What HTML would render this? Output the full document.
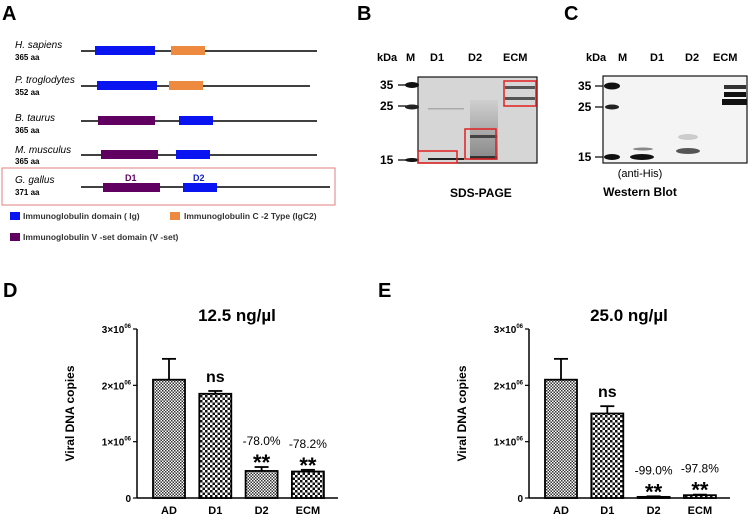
<!DOCTYPE html>
<html><head><meta charset="utf-8"><style>
body{margin:0;background:#fff;font-family:"Liberation Sans",sans-serif}
svg{display:block}
text{font-family:"Liberation Sans",sans-serif}
</style></head><body>
<svg width="750" height="518" viewBox="0 0 750 518">
<defs>
<pattern id="pAD" width="3" height="3" patternUnits="userSpaceOnUse"><rect width="3" height="3" fill="#fff"/><rect width="1.5" height="1.5" fill="#333"/><rect x="1.5" y="1.5" width="1.5" height="1.5" fill="#333"/></pattern>
<pattern id="pD1" width="5" height="5" patternUnits="userSpaceOnUse"><rect width="5" height="5" fill="#fff"/><rect width="2.5" height="2.5" fill="#111"/><rect x="2.5" y="2.5" width="2.5" height="2.5" fill="#111"/></pattern>
<linearGradient id="gD2" x1="0" y1="0" x2="0" y2="1"><stop offset="0" stop-color="#ccc"/><stop offset="0.5" stop-color="#999"/><stop offset="1" stop-color="#666"/></linearGradient>
</defs>

<!-- Panel A -->
<g>
<text x="2" y="20" font-size="20" font-weight="bold">A</text>
<g font-size="10">
<text x="15" y="48" font-style="italic">H. sapiens</text><text x="15" y="60" font-size="8" font-weight="bold">365 aa</text>
<text x="15" y="83" font-style="italic">P. troglodytes</text><text x="15" y="95" font-size="8" font-weight="bold">352 aa</text>
<text x="15" y="121" font-style="italic">B. taurus</text><text x="15" y="133" font-size="8" font-weight="bold">365 aa</text>
<text x="15" y="153" font-style="italic">M. musculus</text><text x="15" y="164" font-size="8" font-weight="bold">365 aa</text>
<text x="15" y="183" font-style="italic">G. gallus</text><text x="15" y="195" font-size="8" font-weight="bold">371 aa</text>
</g>
<g stroke="#000" stroke-width="1.6">
<line x1="81" y1="51" x2="317" y2="51"/><line x1="81" y1="86" x2="310" y2="86"/><line x1="81" y1="121" x2="317" y2="121"/><line x1="81" y1="155" x2="317" y2="155"/><line x1="81" y1="187" x2="330" y2="187"/>
</g>
<rect x="95" y="46" width="60" height="9" fill="#0a14f0"/>
<rect x="171" y="46" width="34" height="9" fill="#ee8a40"/>
<rect x="97" y="81" width="60" height="9" fill="#0a14f0"/>
<rect x="169" y="81" width="34" height="9" fill="#ee8a40"/>
<rect x="98" y="116" width="57" height="9" fill="#600060"/>
<rect x="179" y="116" width="34" height="9" fill="#0a14f0"/>
<rect x="101" y="150" width="57" height="9" fill="#600060"/>
<rect x="176" y="150" width="34" height="9" fill="#0a14f0"/>
<rect x="103" y="183" width="57" height="9" fill="#600060"/>
<rect x="183" y="183" width="34" height="9" fill="#0a14f0"/>
<text x="125" y="181" font-size="9" font-weight="bold" fill="#600060">D1</text>
<text x="193" y="181" font-size="9" font-weight="bold" fill="#1020c0">D2</text>
<rect x="2" y="168" width="333" height="37" fill="none" stroke="#e08080" stroke-width="1"/>
<rect x="10" y="212" width="10" height="8" fill="#0a14f0"/>
<text x="23" y="219" font-size="8.5" font-weight="bold" fill="#333">Immunoglobulin domain ( Ig)</text>
<rect x="170" y="212" width="10" height="8" fill="#ee8a40"/>
<text x="184" y="219" font-size="8.5" font-weight="bold" fill="#333">Immunoglobulin C -2 Type (IgC2)</text>
<rect x="10" y="233" width="10" height="8" fill="#600060"/>
<text x="23" y="240" font-size="8.5" font-weight="bold" fill="#333">Immunoglobulin V -set domain (V -set)</text>
</g>

<!-- Panel B -->
<g font-weight="bold">
<text x="357" y="20" font-size="20">B</text>
<text x="377" y="61" font-size="11">kDa</text>
<text x="406" y="61" font-size="11">M</text>
<text x="430" y="61" font-size="11">D1</text>
<text x="468" y="61" font-size="11">D2</text>
<text x="503" y="61" font-size="11">ECM</text>
<text x="380" y="89" font-size="12">35</text>
<text x="380" y="110" font-size="12">25</text>
<text x="380" y="164" font-size="12">15</text>
<g stroke="#000" stroke-width="1.2"><line x1="398" y1="85" x2="418" y2="85"/><line x1="398" y1="106" x2="418" y2="106"/><line x1="398" y1="160" x2="418" y2="160"/></g>
<rect x="418" y="77" width="119" height="86" fill="#d6d6d6" stroke="#111" stroke-width="1.2"/>
<rect x="470" y="100" width="28" height="60" fill="url(#gD2)" opacity="0.7"/>
<ellipse cx="412" cy="85" rx="7" ry="3" fill="#111"/><ellipse cx="412" cy="107" rx="7" ry="2.5" fill="#222"/><ellipse cx="412" cy="160" rx="7" ry="2" fill="#111"/>
<rect x="428" y="108" width="36" height="1.5" fill="#aaa"/><rect x="428" y="158" width="36" height="2" fill="#222"/>
<rect x="470" y="135" width="27" height="3" fill="#444"/><rect x="470" y="156" width="27" height="3" fill="#333"/>
<rect x="505" y="86" width="30" height="3" fill="#555"/><rect x="505" y="97" width="30" height="3" fill="#555"/>
<g fill="none" stroke="#e02020" stroke-width="1.5">
<rect x="418" y="151" width="39" height="12"/><rect x="465" y="129" width="31" height="30"/><rect x="504" y="81" width="32" height="25"/></g>
<text x="450" y="197" font-size="12">SDS-PAGE</text>
</g>

<!-- Panel C -->
<g font-weight="bold">
<text x="564" y="20" font-size="20">C</text>
<text x="586" y="61" font-size="11">kDa</text>
<text x="618" y="61" font-size="11">M</text>
<text x="650" y="61" font-size="11">D1</text>
<text x="685" y="61" font-size="11">D2</text>
<text x="713" y="61" font-size="11">ECM</text>
<text x="578" y="90" font-size="12">35</text>
<text x="578" y="111" font-size="12">25</text>
<text x="578" y="161" font-size="12">15</text>
<g stroke="#000" stroke-width="1.2"><line x1="595" y1="86" x2="603" y2="86"/><line x1="595" y1="107" x2="603" y2="107"/><line x1="595" y1="157" x2="603" y2="157"/></g>
<rect x="603" y="76" width="144" height="87" fill="#f4f4f4" stroke="#111" stroke-width="1.2"/>
<ellipse cx="612" cy="86" rx="8" ry="3.5" fill="#111"/><ellipse cx="612" cy="107" rx="7" ry="2.5" fill="#222"/><ellipse cx="612" cy="157" rx="8" ry="3" fill="#111"/>
<ellipse cx="642" cy="157" rx="12" ry="3" fill="#111"/><ellipse cx="643" cy="149" rx="10" ry="1.5" fill="#888"/>
<ellipse cx="688" cy="151" rx="12" ry="3" fill="#555"/><ellipse cx="688" cy="137" rx="10" ry="3" fill="#ccc"/>
<rect x="724" y="85" width="22" height="4" fill="#333"/><rect x="724" y="92" width="22" height="5" fill="#111"/><rect x="722" y="99" width="25" height="6" fill="#111"/>
<text x="640" y="177" font-size="11" font-weight="normal" text-anchor="middle">(anti-His)</text>
<text x="640" y="196" font-size="12" text-anchor="middle">Western Blot</text>
</g>

<g id="chartD"></g>
<g id="chartE"></g>
</svg>
<script>
const categories = ["AD","D1","D2","ECM"];
const valuesD = [2.1, 1.85, 0.48, 0.47];
const errorsD = [0.37, 0.05, 0.07, 0.03];
const labelsD = ["", "ns", "-78.0%", "-78.2%"];
const valuesE = [2.1, 1.5, 0.02, 0.05];
const errorsE = [0.37, 0.13, 0.01, 0.01];
const labelsE = ["", "ns", "-99.0%", "-97.8%"];
const yTicks = [0, 1, 2, 3];
const yTickLabels = ["0", "1×10", "2×10", "3×10"];
const NS = "http://www.w3.org/2000/svg";
function mk(parent, tag, attrs, txt){const e=document.createElementNS(NS,tag);for(const k in attrs)e.setAttribute(k,attrs[k]);if(txt!==undefined)e.textContent=txt;parent.appendChild(e);return e;}
function drawChart(gid, letter, title, ax, values, errors, labels, letterX){
  const g=document.getElementById(gid);
  const y0=498, yTop=329, yMax=3;
  const y=v=>y0-(v/yMax)*(y0-yTop);
  const x=i=>ax+16+i*46.3;
  const bw=32;
  let t=mk(g,'text',{x:letterX,y:297,'font-size':20,'font-weight':'bold'},letter);
  
  
  t=mk(g,'text',{x:ax+100,y:321,'font-size':17,'font-weight':'bold','text-anchor':'middle'},title);
  
  
  t=mk(g,'text',{x:0,y:0,'font-size':12,'font-weight':'bold','text-anchor':'middle',transform:`translate(${ax-63},${y(1.5)}) rotate(-90)`},'Viral DNA copies');
  
  
  let l=mk(g,'line',{x1:ax,y1:yTop,x2:ax,y2:y0,stroke:'#000','stroke-width':1.5});
  
  
  l=mk(g,'line',{x1:ax,y1:y0,x2:ax+201,y2:y0,stroke:'#000','stroke-width':1.5});
  
  
  yTicks.forEach((v,i)=>{
    mk(g,'line',{x1:ax-4,y1:y(v),x2:ax,y2:y(v),stroke:'#000','stroke-width':1.2});
    const tt=mk(g,'text',{x:ax-6,y:y(v)+4,'font-size':10,'font-weight':'bold','text-anchor':'end'});
    
    
    tt.textContent=yTickLabels[i];
    if(i>0){mk(tt,'tspan',{dy:-5,'font-size':6},'06');}
  });
  const fills=['url(#pAD)','url(#pD1)','url(#pAD)','url(#pD1)'];
  categories.forEach((c,i)=>{
    const top=y(values[i]), et=y(values[i]+errors[i]), cx=x(i)+bw/2;
    const el=mk(g,'line',{x1:cx,y1:top,x2:cx,y2:et,stroke:'#000','stroke-width':1.8});
    
    
    mk(g,'line',{x1:cx-7,y1:et,x2:cx+7,y2:et,stroke:'#000','stroke-width':1.8});
    const r=mk(g,'rect',{x:x(i),y:top,width:bw,height:Math.max(y0-top,1),fill:fills[i],stroke:'#000','stroke-width':1.8});
    
    
    const xl=mk(g,'text',{x:cx,y:514,'font-size':11,'font-weight':'bold','text-anchor':'middle'},c);
    
    
    if(labels[i]==='ns'){
      const n=mk(g,'text',{x:cx,y:et-9,'font-size':16,'font-weight':'bold','text-anchor':'middle'},'ns');
      
      
    } else if(labels[i]){
      const s=mk(g,'text',{x:cx,y:et+3,'font-size':22,'font-weight':'bold','text-anchor':'middle'},'**');
      
      
      const p=mk(g,'text',{x:cx,y:et-22,'font-size':12,'text-anchor':'middle'},labels[i]);
      
      
    }
  });
}
drawChart('chartD','D','12.5 ng/µl',137,valuesD,errorsD,labelsD,3);
drawChart('chartE','E','25.0 ng/µl',529,valuesE,errorsE,labelsE,378);
</script>
</body></html>
